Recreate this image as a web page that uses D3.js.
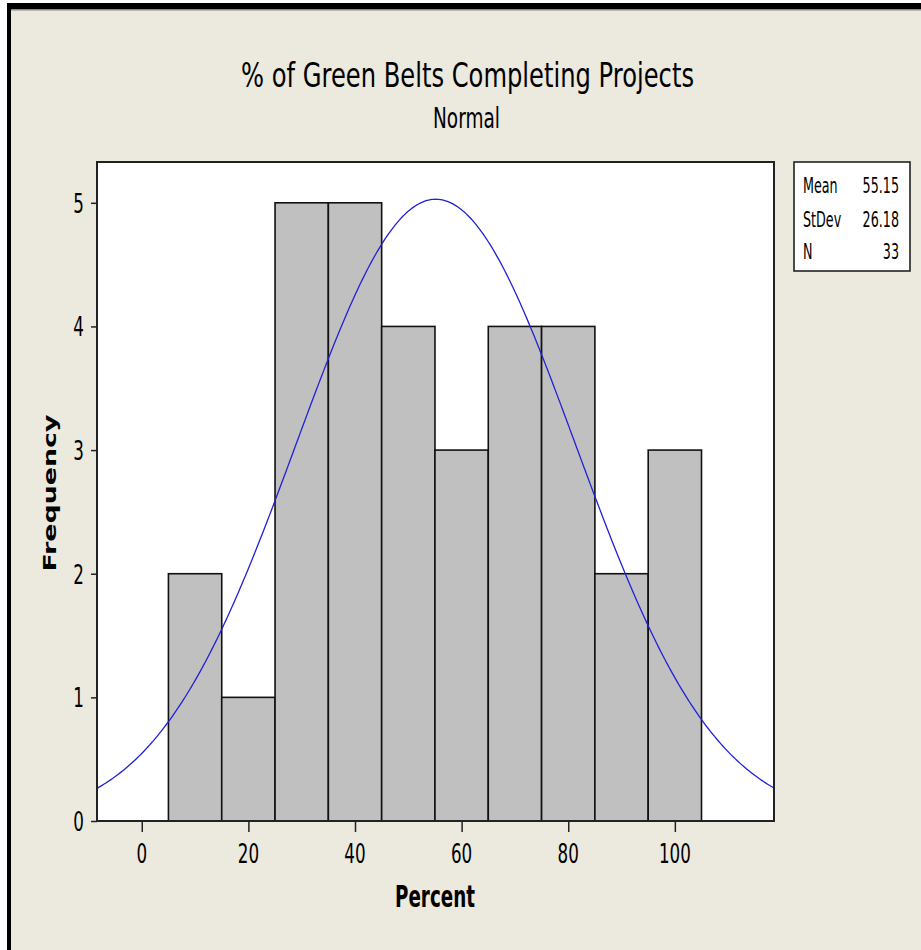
<!DOCTYPE html>
<html><head><meta charset="utf-8">
<script src="https://cdn.jsdelivr.net/npm/d3@7"></script>
<style>html,body{margin:0;padding:0;background:#fff;}svg{display:block;}</style>
</head><body>
<script>
// ---- data ----
const binEdges = [5, 15, 25, 35, 45, 55, 65, 75, 85, 95, 105];
const counts = [2, 1, 5, 5, 4, 3, 4, 4, 2, 3];
const xTicks = [0, 20, 40, 60, 80, 100];
const yTicks = [0, 1, 2, 3, 4, 5];
const statLabels = ["Mean", "StDev", "N"];
const statValues = ["55.15", "26.18", "33"];
const fitMean = 55.15, fitSd = 26.18, fitN = 33, binWidth = 10;
const titleText = "% of Green Belts Completing Projects";
const subtitleText = "Normal";
const xLabel = "Percent", yLabel = "Frequency";

const W = 921, H = 950;
const bg = "#ECE9DF";
const FONT = "'DejaVu Sans', Verdana, sans-serif";
const SX = 0.62;

const svg = d3.select("body").append("svg").attr("width", W).attr("height", H);
svg.append("rect").attr("width", W).attr("height", H).attr("fill", "#fff");
svg.append("rect").attr("x", 11).attr("y", 9).attr("width", W - 11).attr("height", H - 9).attr("fill", bg);
svg.append("rect").attr("x", 7).attr("y", 3).attr("width", W - 7).attr("height", 6).attr("fill", "#000");
svg.append("rect").attr("x", 7).attr("y", 3).attr("width", 4).attr("height", H - 3).attr("fill", "#000");
svg.append("rect").attr("x", 11).attr("y", 9).attr("width", W - 11).attr("height", 1.5).attr("fill", "#888");

const L = 97, R = 774, T = 162, B = 821;
const x = d3.scaleLinear().domain([-8.4, 118.6]).range([L, R]);
const y = d3.scaleLinear().domain([0, 5.33]).range([B, T]);

function txt(px, py, s, o) {
  const g = svg.append("g").attr("transform",
    `translate(${px},${py})` + (o.rot ? ` rotate(${o.rot})` : "") + ` scale(${o.sx || 1},${o.sy || 1})`);
  const t = g.append("text").text(s)
    .attr("font-family", FONT).attr("font-size", o.size)
    .attr("font-weight", o.weight || "normal")
    .attr("text-anchor", o.anchor || "middle").attr("fill", "#000");
  if (o.len) t.attr("textLength", o.len).attr("lengthAdjust", "spacingAndGlyphs");
  return t;
}

// plot area
svg.append("rect").attr("x", L).attr("y", T).attr("width", R - L).attr("height", B - T).attr("fill", "#fff");

const clip = svg.append("clipPath").attr("id", "clip").append("rect")
  .attr("x", L).attr("y", T).attr("width", R - L).attr("height", B - T);

// bars
svg.append("g").selectAll("rect").data(counts).join("rect")
  .attr("x", (d, i) => x(binEdges[i]))
  .attr("width", (d, i) => x(binEdges[i + 1]) - x(binEdges[i]))
  .attr("y", d => y(d))
  .attr("height", d => y(0) - y(d))
  .attr("fill", "#C0C0C0").attr("stroke", "#111").attr("stroke-width", 1.6);

// fitted normal curve
const dom = x.domain();
const pts = d3.range(0, 401).map(k => {
  const v = dom[0] + (dom[1] - dom[0]) * k / 400;
  const z = (v - fitMean) / fitSd;
  return [v, fitN * binWidth * Math.exp(-0.5 * z * z) / (fitSd * Math.sqrt(2 * Math.PI))];
});
svg.append("path").datum(pts)
  .attr("d", d3.line().x(d => x(d[0])).y(d => y(d[1])).curve(d3.curveLinear))
  .attr("fill", "none").attr("stroke", "#2020D8").attr("stroke-width", 1.3)
  .attr("clip-path", "url(#clip)");

// frame
svg.append("rect").attr("x", L).attr("y", T).attr("width", R - L).attr("height", B - T)
  .attr("fill", "none").attr("stroke", "#222").attr("stroke-width", 2);

// axes
const xa = svg.append("g").attr("transform", `translate(0,${B})`)
  .call(d3.axisBottom(x).tickValues(xTicks).tickSize(11).tickPadding(0).tickFormat(d3.format("d")));
xa.select(".domain").remove();
xa.selectAll("line").attr("stroke", "#222").attr("stroke-width", 1.5);
xa.selectAll("text").remove();
xTicks.forEach(v => txt(x(v), 863, String(v), {size: 27, sx: SX}));

const ya = svg.append("g").attr("transform", `translate(${L},0)`)
  .call(d3.axisLeft(y).tickValues(yTicks).tickSize(6).tickFormat(d3.format("d")));
ya.select(".domain").remove();
ya.selectAll("line").attr("stroke", "#222").attr("stroke-width", 1.5);
ya.selectAll("text").remove();
yTicks.forEach(v => txt(84, y(v) + 10, String(v), {size: 27, sx: SX, anchor: "end"}));

// titles
txt(467.5, 87, titleText, {size: 34, len: 453});
txt(466.5, 128, subtitleText, {size: 28, len: 67});
txt(435, 907, xLabel, {size: 30, weight: "bold", len: 80});
txt(56, 493, yLabel, {size: 18, weight: "bold", len: 157, rot: -90});

// stats box
svg.append("rect").attr("x", 794).attr("y", T).attr("width", 116).attr("height", 109)
  .attr("fill", "#fff").attr("stroke", "#222").attr("stroke-width", 1.6);
const rowY = [192.5, 226.5, 258.5];
statLabels.forEach((s, i) => txt(803, rowY[i], s, {size: 20.5, sx: SX, anchor: "start"}));
statValues.forEach((s, i) => txt(899, rowY[i], s, {size: 20.5, sx: SX, anchor: "end"}));
</script>
</body></html>
